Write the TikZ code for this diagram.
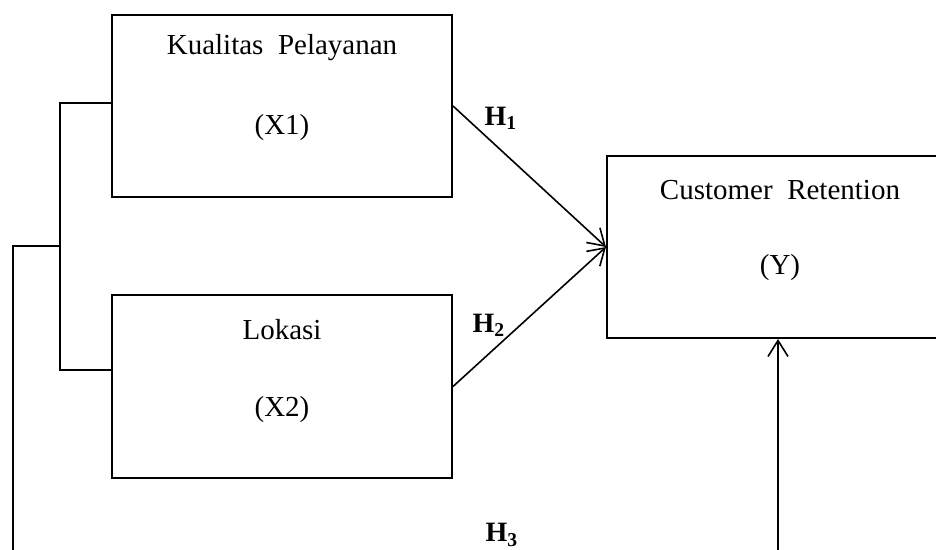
\documentclass[tikz,border=0pt]{standalone}
\usepackage{fontspec}
\setmainfont{Liberation Serif}
\usetikzlibrary{arrows.meta,positioning}

\begin{document}
\begin{tikzpicture}[x=0.5pt, y=-0.5pt,
    varbox/.style={draw, line width=1pt, minimum width=170pt, minimum height=91pt, inner sep=0pt},
    vartext/.style={font=\fontsize{14.5}{16}\selectfont},
    hyp/.style={font=\fontsize{14}{16}\selectfont\bfseries},
    conn/.style={line width=0.8pt},
    >={Straight Barb[length=8pt,width=10pt]}]
    \useasboundingbox (0,0) rectangle (936,550);
    \clip (0,0) rectangle (936,550);

    % boxes
    \node[varbox] (x1) at (282,106) {};
    \node[varbox] (x2) at (282,386.5) {};
    \node[varbox, minimum width=171pt] (y) at (778,247) {};

    \node[vartext] (x1name) at (282,48) {Kualitas\ \ Pelayanan};
    \node[vartext] (x1code) at (282,128) {(X1)};
    \node[vartext] (x2name) at (282,330) {Lokasi};
    \node[vartext] (x2code) at (282,410) {(X2)};
    \node[vartext] (yname) at (780,190) {Customer\ \ Retention};
    \node[vartext] (ycode) at (780,268) {(Y)};

    % hypotheses
    \node[hyp] (h1) at (501,118) {H\textsubscript{1}};
    \node[hyp] (h2) at (489,325) {H\textsubscript{2}};
    \node[hyp] (h3) at (502,535) {H\textsubscript{3}};

    \draw[conn, ->] (x1.east) -- (y.west);
    \draw[conn, ->] (x2.east) -- (y.west);

    % bracket joining X1 and X2
    \coordinate (in1) at (60,103);
    \coordinate (in2) at (60,370);
    \coordinate (mid) at (60,246);
    \coordinate (out1) at (13,246);
    \coordinate (out2) at (13,560);
    \coordinate (up) at (778,560);
    \draw[conn] (x1.west |- in1) -- (in1) -- (in2) -- (x2.west |- in2);
    \draw[conn] (mid) -- (out1) -- (out2);
    \draw[conn, ->] (up) -- (up |- y.south);
\end{tikzpicture}
\end{document}
